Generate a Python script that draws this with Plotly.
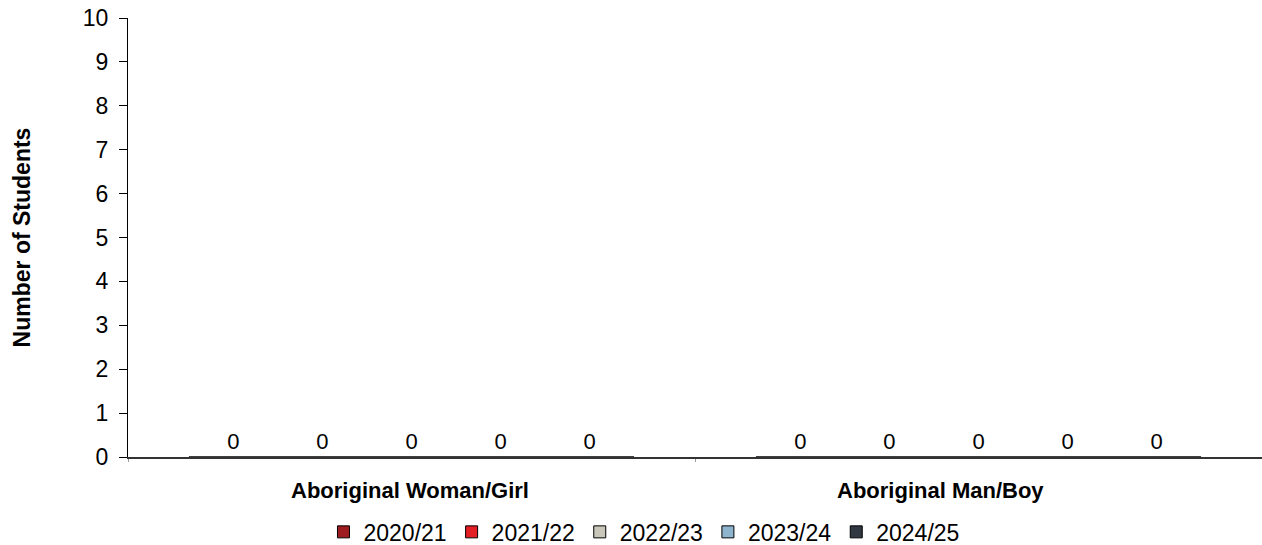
import plotly.graph_objects as go

categories = ["Aboriginal Woman/Girl", "Aboriginal Man/Boy"]
years = ["2020/21", "2021/22", "2022/23", "2023/24", "2024/25"]
values = {
    "2020/21": [0, 0],
    "2021/22": [0, 0],
    "2022/23": [0, 0],
    "2023/24": [0, 0],
    "2024/25": [0, 0],
}
colors = ["#9E1B20", "#E31E25", "#C9C6BA", "#8FB4CD", "#323842"]
y_ticks = list(range(0, 11))

FONT = "Liberation Sans, Arial, sans-serif"

fig = go.Figure()
for yr, col in zip(years, colors):
    fig.add_trace(go.Bar(
        name=yr, x=categories, y=values[yr],
        marker=dict(color=col, line=dict(color="#000000", width=1)),
        text=[str(v) for v in values[yr]],
        textposition="outside",
        textfont=dict(family=FONT, size=22, color="#000000"),
        cliponaxis=False,
    ))

cat_shift = [-2, -38]
for c, s in zip(categories, cat_shift):
    fig.add_annotation(x=c, y=0, xref="x", yref="y", yanchor="middle",
                       yshift=-33, xshift=s, text="<b>%s</b>" % c, showarrow=False,
                       font=dict(family=FONT, size=22, color="#000000"))

fig.update_layout(
    width=1262, height=545,
    margin=dict(l=128, r=0, t=18, b=88),
    paper_bgcolor="white", plot_bgcolor="white",
    barmode="group", bargap=0.215, bargroupgap=0,
    font=dict(family=FONT, size=23, color="#000000"),
    showlegend=True,
    legend=dict(orientation="h", x=0.455, xanchor="center", y=0.024, yanchor="middle",
                yref="container", font=dict(family=FONT, size=23, color="#000000"),
                itemwidth=30, tracegroupgap=0),
)
fig.update_xaxes(showticklabels=False, showline=True, linecolor="#333333", linewidth=2,
                 ticks="outside", tickson="boundaries", ticklen=3, tickcolor="#999999",
                 showgrid=False, zeroline=False)
fig.update_yaxes(range=[0, 10], tickvals=y_ticks, showline=True, linecolor="#000000",
                 linewidth=1, ticks="outside", ticklen=8, tickcolor="#000000",
                 ticklabelstandoff=6,
                 showgrid=False, zeroline=False,
                 tickfont=dict(family=FONT, size=23, color="#000000"),
                 title=dict(text="<b>Number of Students</b>", standoff=45,
                            font=dict(family=FONT, size=23, color="#000000")))

fig.write_html("out.html", config={"displayModeBar": False},
               post_script="document.body.style.margin='0';")
